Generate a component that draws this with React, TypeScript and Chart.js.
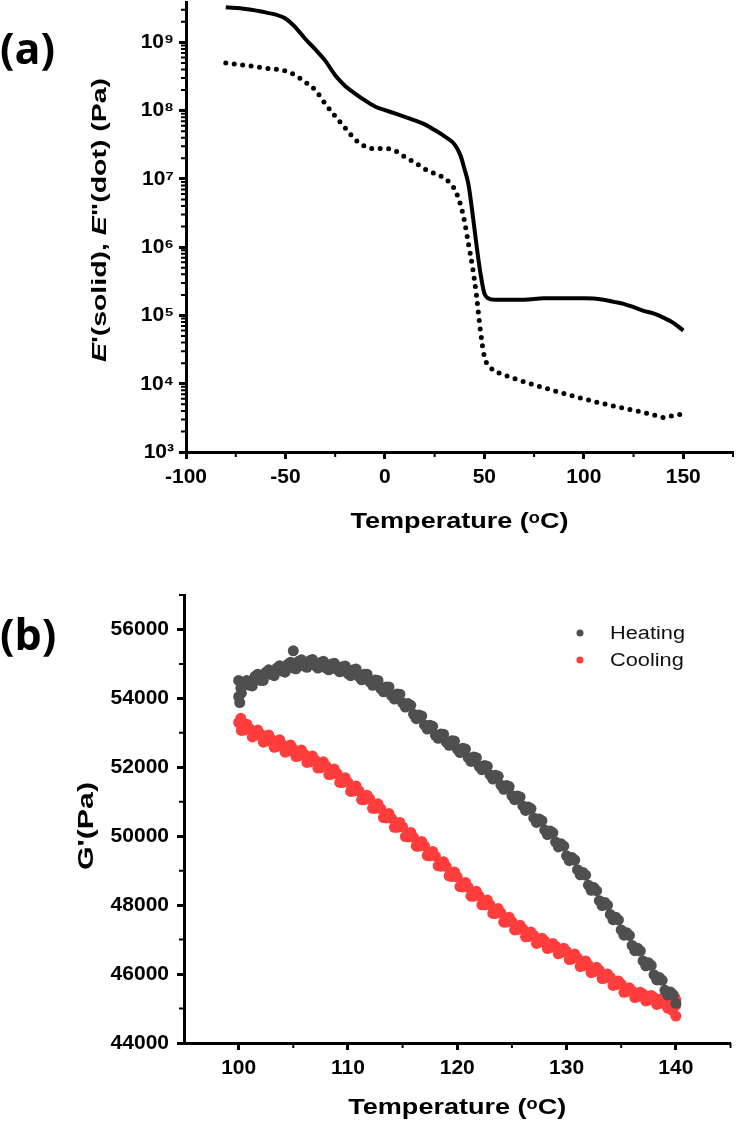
import React, { useEffect, useRef } from "react";
import { Chart, registerables } from "chart.js";

Chart.register(...registerables);

const FONT = '"Liberation Sans", Arial, Helvetica, sans-serif';

// ---------------- Panel (a): E' (solid) and E'' (dotted) vs temperature ----------------
const tempSolid = [-80, -70, -60, -50, -45, -40, -35, -30, -25, -20, -15, -10, -5, 0, 5, 10, 15, 20, 25, 30, 35, 38, 40, 42, 44, 46, 48, 50, 52, 55, 60, 70, 80, 90, 100, 110, 115, 120, 125, 130, 135, 140, 145, 150];
const storageModulus = [3.27e9, 3.09e9, 2.75e9, 2.24e9, 1.66e9, 1.12e9, 7.9e8, 5.4e8, 3.3e8, 2.3e8, 1.78e8, 1.41e8, 1.15e8, 1.02e8, 9.1e7, 8.1e7, 7.2e7, 6.3e7, 5.2e7, 4.2e7, 3.2e7, 2.2e7, 1.4e7, 8.3e6, 3.2e6, 1.1e6, 4.2e5, 2.1e5, 1.78e5, 1.7e5, 1.7e5, 1.7e5, 1.78e5, 1.78e5, 1.78e5, 1.7e5, 1.58e5, 1.48e5, 1.32e5, 1.17e5, 1.07e5, 9.3e4, 7.8e4, 6.0e4];

const tempDotted = [-80, -70, -60, -50, -45, -40, -35, -30, -25, -20, -15, -10, -5, 0, 5, 10, 15, 20, 25, 30, 35, 38, 40, 42, 44, 46, 48, 50, 53, 60, 70, 85, 100, 115, 128, 135, 140, 145, 150];
const lossModulus = [5.0e8, 4.6e8, 4.2e8, 3.8e8, 3.3e8, 2.6e8, 2.0e8, 1.26e8, 8.3e7, 5.6e7, 3.8e7, 3.0e7, 2.75e7, 2.8e7, 2.6e7, 2.1e7, 1.74e7, 1.4e7, 1.2e7, 1.02e7, 7.1e6, 4.2e6, 2.4e6, 1.12e6, 5.2e5, 2.0e5, 6.0e4, 2.5e4, 1.74e4, 1.35e4, 1.07e4, 7.9e3, 6.0e3, 4.7e3, 3.9e3, 3.5e3, 3.2e3, 3.4e3, 3.6e3];

const xTicksA = [-100, -50, 0, 50, 100, 150];
const xMinorA = [-75, -25, 25, 75, 125, 175];
const yTicksA = [1e3, 1e4, 1e5, 1e6, 1e7, 1e8, 1e9];
const yTickLabelsA = ["10³", "10⁴", "10⁵", "10⁶", "10⁷", "10⁸", "10⁹"];
const logMinorFactors = [2, 3, 4, 5, 6, 7, 8, 9];

// ---------------- Panel (b): G' during heating / cooling ----------------
const sweepTemps = [100, 100.5, 101, 101.5, 102, 102.5, 103, 103.5, 104, 104.5, 105, 105.5, 106, 106.5, 107, 107.5, 108, 108.5, 109, 109.5, 110, 110.5, 111, 111.5, 112, 112.5, 113, 113.5, 114, 114.5, 115, 115.5, 116, 116.5, 117, 117.5, 118, 118.5, 119, 119.5, 120, 120.5, 121, 121.5, 122, 122.5, 123, 123.5, 124, 124.5, 125, 125.5, 126, 126.5, 127, 127.5, 128, 128.5, 129, 129.5, 130, 130.5, 131, 131.5, 132, 132.5, 133, 133.5, 134, 134.5, 135, 135.5, 136, 136.5, 137, 137.5, 138, 138.5, 139, 139.5, 140];
const heatingModulus = [54050, 54420, 54380, 54640, 54520, 54760, 54690, 54880, 54790, 54990, 54880, 55080, 54940, 55090, 54950, 55040, 54880, 55000, 54840, 54920, 54720, 54830, 54640, 54700, 54480, 54530, 54280, 54330, 54080, 54130, 53870, 53850, 53540, 53520, 53230, 53220, 52930, 52970, 52730, 52770, 52530, 52550, 52280, 52300, 52030, 52050, 51780, 51770, 51480, 51470, 51180, 51170, 50880, 50850, 50530, 50500, 50180, 50150, 49830, 49780, 49430, 49380, 49030, 48950, 48580, 48510, 48130, 48080, 47730, 47650, 47280, 47200, 46830, 46750, 46380, 46330, 45980, 45900, 45530, 45480, 45150];
const coolingModulus = [53300, 53080, 53120, 52920, 52960, 52760, 52810, 52610, 52660, 52470, 52530, 52330, 52380, 52160, 52210, 51990, 52040, 51800, 51820, 51560, 51560, 51310, 51320, 51060, 51080, 50810, 50800, 50530, 50520, 50260, 50270, 49980, 49970, 49710, 49720, 49430, 49420, 49130, 49120, 48830, 48820, 48530, 48520, 48260, 48270, 48010, 48010, 47760, 47770, 47510, 47520, 47290, 47310, 47090, 47120, 46920, 46960, 46770, 46810, 46620, 46660, 46440, 46470, 46240, 46260, 46070, 46110, 45880, 45910, 45690, 45710, 45490, 45510, 45350, 45420, 45250, 45320, 45150, 45230, 45050, 45100];

const sweepTempsMid = [100.25, 100.75, 101.25, 101.75, 102.25, 102.75, 103.25, 103.75, 104.25, 104.75, 105.25, 105.75, 106.25, 106.75, 107.25, 107.75, 108.25, 108.75, 109.25, 109.75, 110.25, 110.75, 111.25, 111.75, 112.25, 112.75, 113.25, 113.75, 114.25, 114.75, 115.25, 115.75, 116.25, 116.75, 117.25, 117.75, 118.25, 118.75, 119.25, 119.75, 120.25, 120.75, 121.25, 121.75, 122.25, 122.75, 123.25, 123.75, 124.25, 124.75, 125.25, 125.75, 126.25, 126.75, 127.25, 127.75, 128.25, 128.75, 129.25, 129.75, 130.25, 130.75, 131.25, 131.75, 132.25, 132.75, 133.25, 133.75, 134.25, 134.75, 135.25, 135.75, 136.25, 136.75, 137.25, 137.75, 138.25, 138.75, 139.25, 139.75];
const heatingModulusMid = [54150, 54520, 54360, 54700, 54520, 54830, 54660, 54950, 54760, 55050, 54860, 55120, 54900, 55130, 54880, 55080, 54830, 55020, 54770, 54940, 54660, 54850, 54540, 54700, 54380, 54520, 54190, 54330, 53980, 54120, 53750, 53800, 53410, 53490, 53110, 53190, 52840, 52960, 52640, 52760, 52430, 52530, 52170, 52280, 51930, 52030, 51660, 51740, 51360, 51440, 51060, 51140, 50750, 50800, 50400, 50450, 50050, 50100, 49690, 49710, 49290, 49310, 48880, 48870, 48430, 48420, 47990, 48000, 47580, 47570, 47130, 47120, 46680, 46670, 46240, 46250, 45830, 45820, 45390, 45400];
const coolingModulusMid = [53070, 53250, 52880, 53080, 52730, 52940, 52580, 52800, 52440, 52650, 52310, 52500, 52140, 52330, 51980, 52160, 51790, 51950, 51560, 51700, 51300, 51460, 51060, 51190, 50810, 50940, 50540, 50660, 50260, 50400, 49990, 50110, 49710, 49850, 49440, 49560, 49140, 49260, 48850, 48960, 48540, 48660, 48260, 48400, 48010, 48150, 47760, 47900, 47510, 47650, 47280, 47420, 47080, 47220, 46890, 47040, 46740, 46890, 46590, 46750, 46420, 46580, 46220, 46380, 46040, 46200, 45870, 46000, 45670, 45800, 45470, 45600, 45320, 45470, 45220, 45380, 45120, 45290, 45010, 45200];

const heatingEdgeTemps = [100, 100.1, 100.2, 105];
const heatingEdgeModulus = [54520, 53880, 54300, 55380];
const coolingEdgeTemps = [139.7, 140, 139.9, 140, 100.2];
const coolingEdgeModulus = [44950, 44780, 45320, 45250, 53420];

const xTicksB = [100, 110, 120, 130, 140];
const xMinorB = [105, 115, 125, 135, 145];
const yTicksB = [44000, 46000, 48000, 50000, 52000, 54000, 56000];
const yMinorB = [45000, 47000, 49000, 51000, 53000, 55000, 57000];

const HEAT_COLOR = "#4f4f4f";
const COOL_COLOR = "#ff3d3d";

type Seg = { text: string; italic?: boolean };

function drawFittedText(
  ctx: CanvasRenderingContext2D,
  segs: Seg[],
  cx: number,
  cy: number,
  size: number,
  targetLen: number,
  rotate: boolean,
  weight: string
) {
  ctx.save();
  const fontFor = (it?: boolean) => `${it ? "italic " : ""}${weight} ${size}px ${FONT}`;
  let total = 0;
  const widths = segs.map((s) => {
    ctx.font = fontFor(s.italic);
    const w = ctx.measureText(s.text).width;
    total += w;
    return w;
  });
  const k = targetLen / total;
  ctx.translate(cx, cy);
  if (rotate) ctx.rotate(-Math.PI / 2);
  ctx.scale(k, 1);
  ctx.textBaseline = "middle";
  ctx.textAlign = "left";
  ctx.fillStyle = "#000";
  let x = -total / 2;
  segs.forEach((s, i) => {
    ctx.font = fontFor(s.italic);
    ctx.fillText(s.text, x, 0);
    x += widths[i];
  });
  ctx.restore();
}

function drawMinorTicks(chart: any, xMinor: number[], yMinor: number[]) {
  const { ctx, chartArea } = chart;
  const xs = chart.scales.x;
  const ys = chart.scales.y;
  ctx.save();
  ctx.strokeStyle = "#000";
  ctx.lineWidth = 2;
  ctx.beginPath();
  xMinor.forEach((v) => {
    const px = xs.getPixelForValue(v);
    if (px < chartArea.left - 1 || px > chartArea.right + 1) return;
    ctx.moveTo(px, chartArea.bottom);
    ctx.lineTo(px, chartArea.bottom + 5);
  });
  yMinor.forEach((v) => {
    const py = ys.getPixelForValue(v);
    if (py < chartArea.top - 1 || py > chartArea.bottom + 1) return;
    ctx.moveTo(chartArea.left, py);
    ctx.lineTo(chartArea.left - 5, py);
  });
  ctx.stroke();
  ctx.restore();
}

function axisStyle(padding: number) {
  return {
    grid: { drawOnChartArea: false, drawTicks: true, tickLength: 7, tickWidth: 3, tickColor: "#000" },
    border: { display: true, color: "#000", width: 3 },
    ticks: {
      color: "#000",
      font: { family: FONT, size: 21, weight: "bold" as const },
      padding,
      maxRotation: 0,
      autoSkip: false,
    },
    title: { display: false },
  };
}

function fixY(width: number) {
  return (s: any) => {
    s.width = width;
    s.paddingTop = 0;
    s.paddingBottom = 0;
  };
}
function fixX(height: number) {
  return (s: any) => {
    s.height = height;
    s.paddingLeft = 0;
    s.paddingRight = 0;
  };
}

function pairs(xs: number[], ys: number[]) {
  return xs.map((x, i) => ({ x, y: ys[i] }));
}

export default function App() {
  const refA = useRef<HTMLCanvasElement | null>(null);
  const refB = useRef<HTMLCanvasElement | null>(null);

  useEffect(() => {
    const yMinorA: number[] = [];
    yTicksA.slice(0, -1).forEach((d) => logMinorFactors.forEach((f) => yMinorA.push(d * f)));
    yMinorA.push(2e9, 3e9);

    const decorA = {
      id: "decorA",
      afterDraw(chart: any) {
        const { ctx, chartArea } = chart;
        drawMinorTicks(chart, xMinorA, yMinorA);
        drawFittedText(ctx, [{ text: "Temperature (ᵒC)" }], (chartArea.left + chartArea.right) / 2, 522, 22, 218, false, "bold");
        drawFittedText(
          ctx,
          [{ text: "E", italic: true }, { text: "'(solid), " }, { text: "E", italic: true }, { text: '"(dot) (Pa)' }],
          100,
          220,
          21,
          284,
          true,
          "bold"
        );
      },
    };

    const chartA = new Chart(refA.current as HTMLCanvasElement, {
      type: "line",
      data: {
        datasets: [
          {
            label: "E' (solid)",
            data: pairs(tempSolid, storageModulus),
            borderColor: "#000",
            backgroundColor: "#000",
            borderWidth: 4,
            pointRadius: 0,
            cubicInterpolationMode: "monotone",
            fill: false,
          },
          {
            label: 'E" (dot)',
            data: pairs(tempDotted, lossModulus),
            borderColor: "#000",
            backgroundColor: "#000",
            borderWidth: 5,
            borderDash: [0, 8.5],
            borderCapStyle: "round",
            pointRadius: 0,
            cubicInterpolationMode: "monotone",
            fill: false,
          },
        ],
      },
      options: {
        animation: false,
        responsive: false,
        devicePixelRatio: 1,
        layout: { padding: { top: 2, right: 3, left: 0, bottom: 0 } },
        plugins: { legend: { display: false }, tooltip: { enabled: false } },
        scales: {
          x: {
            type: "linear",
            min: -100,
            max: 175,
            ...axisStyle(6),
            afterBuildTicks: (s: any) => {
              s.ticks = xTicksA.map((v) => ({ value: v }));
            },
            afterFit: fixX(108),
          },
          y: {
            type: "logarithmic",
            min: 1e3,
            max: 3.9e9,
            ...axisStyle(5),
            ticks: { ...axisStyle(5).ticks, callback: (_v: any, i: number) => yTickLabelsA[i] ?? "" },
            afterBuildTicks: (s: any) => {
              s.ticks = yTicksA.map((v) => ({ value: v }));
            },
            afterFit: fixY(186),
          },
        },
      } as any,
      plugins: [decorA],
    });

    const decorB = {
      id: "decorB",
      afterDraw(chart: any) {
        const { ctx, chartArea } = chart;
        drawMinorTicks(chart, xMinorB, yMinorB);
        drawFittedText(ctx, [{ text: "Temperature (ᵒC)" }], (chartArea.left + chartArea.right) / 2, 548, 22, 218, false, "bold");
        drawFittedText(ctx, [{ text: "G'(Pa)" }], 87, 266, 22, 88, true, "bold");
        // legend
        const rows = [73, 100];
        chart.data.datasets.forEach((ds: any, i: number) => {
          const y = rows[i];
          ctx.save();
          ctx.fillStyle = ds.backgroundColor;
          ctx.beginPath();
          ctx.arc(580, y, 3.5, 0, Math.PI * 2);
          ctx.fill();
          ctx.restore();
          ctx.save();
          ctx.font = `18px ${FONT}`;
          const w = ctx.measureText("Heating").width;
          ctx.translate(610, y + 1);
          ctx.scale(75 / w, 1);
          ctx.fillStyle = "#111";
          ctx.textBaseline = "middle";
          ctx.textAlign = "left";
          ctx.fillText(ds.label, 0, 0);
          ctx.restore();
        });
      },
    };

    const chartB = new Chart(refB.current as HTMLCanvasElement, {
      type: "scatter",
      data: {
        datasets: [
          {
            label: "Heating",
            data: pairs(sweepTemps, heatingModulus)
              .concat(pairs(sweepTempsMid, heatingModulusMid))
              .concat(pairs(heatingEdgeTemps, heatingEdgeModulus)),
            backgroundColor: HEAT_COLOR,
            borderColor: HEAT_COLOR,
            pointRadius: 5.5,
            pointBorderWidth: 0,
          },
          {
            label: "Cooling",
            data: pairs(sweepTemps, coolingModulus)
              .concat(pairs(sweepTempsMid, coolingModulusMid))
              .concat(pairs(coolingEdgeTemps, coolingEdgeModulus)),
            backgroundColor: COOL_COLOR,
            borderColor: COOL_COLOR,
            pointRadius: 5.5,
            pointBorderWidth: 0,
          },
        ],
      },
      options: {
        animation: false,
        responsive: false,
        devicePixelRatio: 1,
        layout: { padding: { top: 35, right: 3, left: 0, bottom: 0 } },
        plugins: { legend: { display: false }, tooltip: { enabled: false } },
        scales: {
          x: {
            type: "linear",
            min: 95,
            max: 145,
            ...axisStyle(6),
            afterBuildTicks: (s: any) => {
              s.ticks = xTicksB.map((v) => ({ value: v }));
            },
            afterFit: fixX(84),
          },
          y: {
            type: "linear",
            min: 44000,
            max: 57000,
            ...axisStyle(8),
            ticks: { ...axisStyle(8).ticks, callback: (v: any) => String(v) },
            afterBuildTicks: (s: any) => {
              s.ticks = yTicksB.map((v) => ({ value: v }));
            },
            afterFit: fixY(184),
          },
        },
      } as any,
      plugins: [decorB],
    });

    return () => {
      chartA.destroy();
      chartB.destroy();
    };
  }, []);

  const panelLabel: React.CSSProperties = {
    position: "absolute",
    left: 0,
    fontFamily: '"Open Sans", "Liberation Sans", sans-serif',
    fontWeight: 700,
    fontSize: 43,
    lineHeight: "46px",
    color: "#000",
    margin: 0,
  };

  return (
    <div style={{ position: "absolute", left: 0, top: 0, width: 736, height: 1127, background: "#fff", overflow: "hidden" }}>
      <canvas ref={refA} width={736} height={560} style={{ position: "absolute", left: 0, top: 0, width: 736, height: 560 }} />
      <canvas ref={refB} width={736} height={567} style={{ position: "absolute", left: 0, top: 560, width: 736, height: 567 }} />
      <div style={{ ...panelLabel, top: 25 }}>(a)</div>
      <div style={{ ...panelLabel, top: 611 }}>(b)</div>
    </div>
  );
}
